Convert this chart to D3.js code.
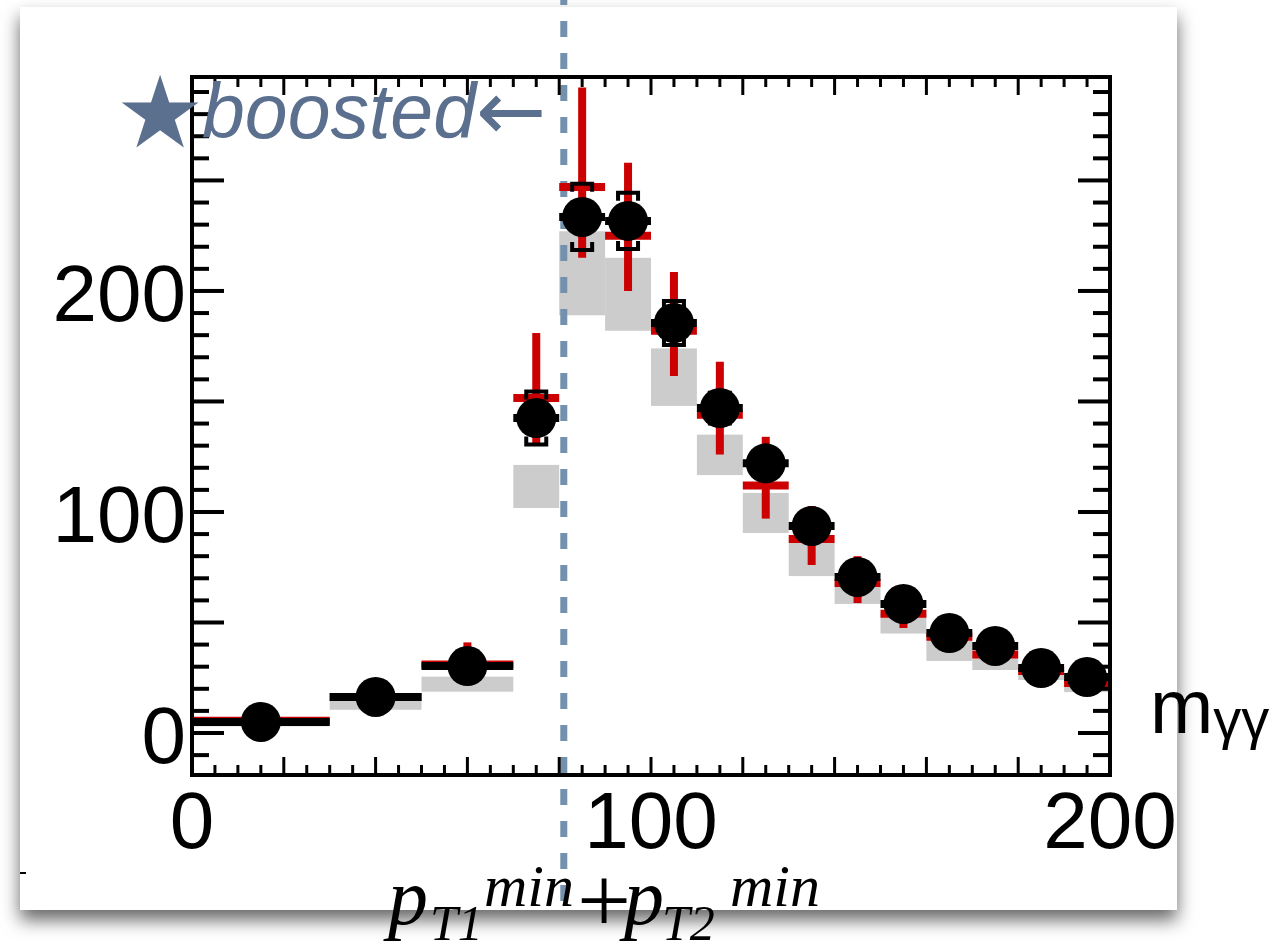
<!DOCTYPE html>
<html>
<head>
<meta charset="utf-8">
<script src="https://cdn.jsdelivr.net/npm/d3@7"></script>
<style>
  body { margin: 0; background: #fff; }
  svg { display: block; }
</style>
</head>
<body>
<div id="chart"></div>
<script>
// bins in m_gamma-gamma and the three series
var binEdges = [0, 30, 50, 70, 80, 90, 100, 110, 120, 130, 140, 150, 160, 170, 180, 190, 200];
var dataVals = [5, 16.3, 30.3, 142.5, 233.5, 231.7, 185.5, 147, 122, 93.7, 70.6, 58.4, 45.2, 39.4, 29.4, 25.3];
var dataErr  = [1, 1, 1, 12, 15, 12.7, 10, 7, 6, 5, 4, 4, 3, 3, 3, 3];
var redVals  = [5.6, 16.3, 31, 151.6, 247, 225, 182, 144, 112, 87.8, 67.9, 54, 43.5, 35.5, 28, 22.6];
var redLo    = [5, 15.5, 25, 131, 215, 200, 161.5, 126, 97, 76, 58.8, 47.5, 39, 32, 25, 20];
var redHi    = [6, 17, 41, 181, 292, 258, 208.6, 168, 134, 102.7, 80, 60, 48, 40, 31, 26];
var grayLo   = [3, 10.5, 18.7, 101.8, 189, 182, 148, 116.7, 90.5, 71, 58.4, 45, 32.6, 28.5, 24, 18.5];
var grayHi   = [7, 15, 25.5, 121.3, 227, 215, 174, 135, 108.6, 86, 68, 54, 43, 36, 28.5, 24];
var xTickLabels = [0, 100, 200];
var yTickLabels = [0, 100, 200];
var cutX = 81; // pT1min + pT2min

var W = 1278, H = 945;

var svg = d3.select("#chart")
  .append("svg")
    .attr("width", W)
    .attr("height", H);

// card with drop shadow
var defs = svg.append("defs");
var f = defs.append("filter").attr("id", "shadow")
  .attr("x", "-10%").attr("y", "-10%").attr("width", "120%").attr("height", "120%");
f.append("feDropShadow")
  .attr("dx", 0).attr("dy", 10)
  .attr("stdDeviation", 9)
  .attr("flood-color", "#000")
  .attr("flood-opacity", 0.6);

svg.append("rect")
  .attr("x", 20).attr("y", 7)
  .attr("width", 1157).attr("height", 903)
  .attr("fill", "#fff")
  .attr("filter", "url(#shadow)");

svg.append("line")
  .attr("x1", 20).attr("x2", 26)
  .attr("y1", 873).attr("y2", 873)
  .attr("stroke", "#000").attr("stroke-width", 2);

var x = d3.scaleLinear().domain([0, 200]).range([192, 1110]);
var y = d3.scaleLinear().domain([-19, 296.8]).range([775, 77]);

var bins = dataVals.map(function(v, i) {
  return {
    x0: binEdges[i], x1: binEdges[i + 1],
    xc: (binEdges[i] + binEdges[i + 1]) / 2,
    v: v, e: dataErr[i],
    r: redVals[i], rlo: redLo[i], rhi: redHi[i],
    glo: grayLo[i], ghi: grayHi[i]
  };
});

// gray band
svg.selectAll(".gray")
  .data(bins)
  .enter()
  .append("rect")
    .attr("x", function(d) { return x(d.x0); })
    .attr("width", function(d) { return x(d.x1) - x(d.x0); })
    .attr("y", function(d) { return y(d.ghi); })
    .attr("height", function(d) { return y(d.glo) - y(d.ghi); })
    .attr("fill", "#cccccc");

// dashed cut line
svg.append("line")
  .attr("x1", x(cutX)).attr("x2", x(cutX))
  .attr("y1", 0).attr("y2", 905)
  .attr("stroke", "#7391ad")
  .attr("stroke-width", 7)
  .attr("stroke-dasharray", "16,16")
  .attr("stroke-dashoffset", 11);

// black vertical error (thin, under red)
svg.selectAll(".bv")
  .data(bins)
  .enter()
  .append("line")
    .attr("x1", function(d) { return x(d.xc); })
    .attr("x2", function(d) { return x(d.xc); })
    .attr("y1", function(d) { return y(d.v + d.e); })
    .attr("y2", function(d) { return y(d.v - d.e); })
    .attr("stroke", "#000").attr("stroke-width", 3);

// red series
svg.selectAll(".rv")
  .data(bins)
  .enter()
  .append("line")
    .attr("x1", function(d) { return x(d.xc); })
    .attr("x2", function(d) { return x(d.xc); })
    .attr("y1", function(d) { return y(d.rhi); })
    .attr("y2", function(d) { return y(d.rlo); })
    .attr("stroke", "#cc0000").attr("stroke-width", 8);

svg.selectAll(".rh")
  .data(bins)
  .enter()
  .append("line")
    .attr("x1", function(d) { return x(d.x0); })
    .attr("x2", function(d) { return x(d.x1); })
    .attr("y1", function(d) { return y(d.r); })
    .attr("y2", function(d) { return y(d.r); })
    .attr("stroke", "#cc0000").attr("stroke-width", 8);

// black caps
svg.selectAll(".capT")
  .data(bins)
  .enter()
  .append("path")
    .attr("d", function(d) {
      var cx = x(d.xc), t = y(d.v + d.e);
      return "M" + (cx - 10) + "," + (t + 8) + "V" + t + "H" + (cx + 10) + "V" + (t + 8);
    })
    .attr("fill", "none").attr("stroke", "#000").attr("stroke-width", 4);

svg.selectAll(".capB")
  .data(bins)
  .enter()
  .append("path")
    .attr("d", function(d) {
      var cx = x(d.xc), b = y(d.v - d.e);
      return "M" + (cx - 10) + "," + (b - 8) + "V" + b + "H" + (cx + 10) + "V" + (b - 8);
    })
    .attr("fill", "none").attr("stroke", "#000").attr("stroke-width", 4);

// black horizontal bin bars and points
svg.selectAll(".bh")
  .data(bins)
  .enter()
  .append("line")
    .attr("x1", function(d) { return x(d.x0); })
    .attr("x2", function(d) { return x(d.x1); })
    .attr("y1", function(d) { return y(d.v); })
    .attr("y2", function(d) { return y(d.v); })
    .attr("stroke", "#000").attr("stroke-width", 8);

svg.selectAll(".pt")
  .data(bins)
  .enter()
  .append("circle")
    .attr("cx", function(d) { return x(d.xc); })
    .attr("cy", function(d) { return y(d.v); })
    .attr("r", 20)
    .attr("fill", "#000");

// frame and ticks on all sides
svg.append("rect")
  .attr("x", x(0)).attr("y", y(296.8))
  .attr("width", x(200) - x(0)).attr("height", y(-19) - y(296.8))
  .attr("fill", "none").attr("stroke", "#000").attr("stroke-width", 4);

var xt = d3.range(5, 200, 5);
var yt = d3.range(-10, 296, 10);

svg.selectAll(".xtb")
  .data(xt).enter().append("line")
    .attr("x1", function(d) { return x(d); }).attr("x2", function(d) { return x(d); })
    .attr("y1", y(-19))
    .attr("y2", function(d) { return y(-19) - (d % 20 === 0 ? 18 : 10); })
    .attr("stroke", "#000").attr("stroke-width", 3);

svg.selectAll(".xtt")
  .data(xt).enter().append("line")
    .attr("x1", function(d) { return x(d); }).attr("x2", function(d) { return x(d); })
    .attr("y1", y(296.8))
    .attr("y2", function(d) { return y(296.8) + (d % 20 === 0 ? 18 : 10); })
    .attr("stroke", "#000").attr("stroke-width", 3);

svg.selectAll(".ytl")
  .data(yt).enter().append("line")
    .attr("y1", function(d) { return y(d); }).attr("y2", function(d) { return y(d); })
    .attr("x1", x(0))
    .attr("x2", function(d) { return x(0) + (d % 50 === 0 ? 32 : 17); })
    .attr("stroke", "#000").attr("stroke-width", 4);

svg.selectAll(".ytr")
  .data(yt).enter().append("line")
    .attr("y1", function(d) { return y(d); }).attr("y2", function(d) { return y(d); })
    .attr("x1", x(200))
    .attr("x2", function(d) { return x(200) - (d % 50 === 0 ? 32 : 17); })
    .attr("stroke", "#000").attr("stroke-width", 4);

// tick labels
svg.selectAll(".ylab")
  .data(yTickLabels).enter().append("text")
    .attr("x", 186)
    .attr("y", function(d) { return y(d); })
    .attr("dy", "0.37em")
    .attr("text-anchor", "end")
    .attr("font-family", "Liberation Sans, Arial, sans-serif")
    .attr("font-size", 80)
    .text(function(d) { return d; });

svg.selectAll(".xlab")
  .data(xTickLabels).enter().append("text")
    .attr("x", function(d) { return x(d); })
    .attr("y", 848)
    .attr("text-anchor", "middle")
    .attr("font-family", "Liberation Sans, Arial, sans-serif")
    .attr("font-size", 80)
    .text(function(d) { return d; });

// x axis label at right
var mlab = svg.append("text")
  .attr("x", 1150).attr("y", 733)
  .attr("font-family", "Liberation Sans, Arial, sans-serif")
  .attr("font-size", 76);
mlab.append("tspan").text("m");
mlab.append("tspan").attr("font-size", 56).attr("dy", 5).text("γγ");

// boosted marker
svg.append("text")
  .attr("x", 160).attr("y", 147)
  .attr("text-anchor", "middle")
  .attr("font-family", "DejaVu Sans, sans-serif")
  .attr("font-size", 100)
  .attr("fill", "#5b6f8e")
  .text("★");

var blab = svg.append("text")
  .attr("x", 202).attr("y", 138)
  .attr("font-family", "Liberation Sans, Arial, sans-serif")
  .attr("font-style", "italic")
  .attr("font-size", 77)
  .attr("fill", "#5b6f8e");
blab.append("tspan").text("boosted");
blab.append("tspan")
  .attr("font-family", "DejaVu Sans, sans-serif")
  .attr("font-style", "normal")
  .attr("font-size", 84)
  .attr("dy", 2)
  .text("←");

// cut label below
var plab = svg.append("text")
  .attr("font-family", "Liberation Serif, Times New Roman, serif")
  .attr("font-style", "italic")
  .attr("font-size", 80);
plab.append("tspan").attr("x", 388).attr("y", 924).attr("font-size", 80).text("p");
plab.append("tspan").attr("x", 430).attr("y", 940).attr("font-size", 50).text("T1");
plab.append("tspan").attr("x", 484).attr("y", 906).attr("font-size", 60).text("min");
plab.append("tspan").attr("x", 577).attr("y", 932).attr("font-size", 96).attr("font-style", "normal").text("+");
plab.append("tspan").attr("x", 624).attr("y", 924).attr("font-size", 80).text("p");
plab.append("tspan").attr("x", 662).attr("y", 940).attr("font-size", 50).text("T2");
plab.append("tspan").attr("x", 730).attr("y", 906).attr("font-size", 60).text("min");
</script>
</body>
</html>
